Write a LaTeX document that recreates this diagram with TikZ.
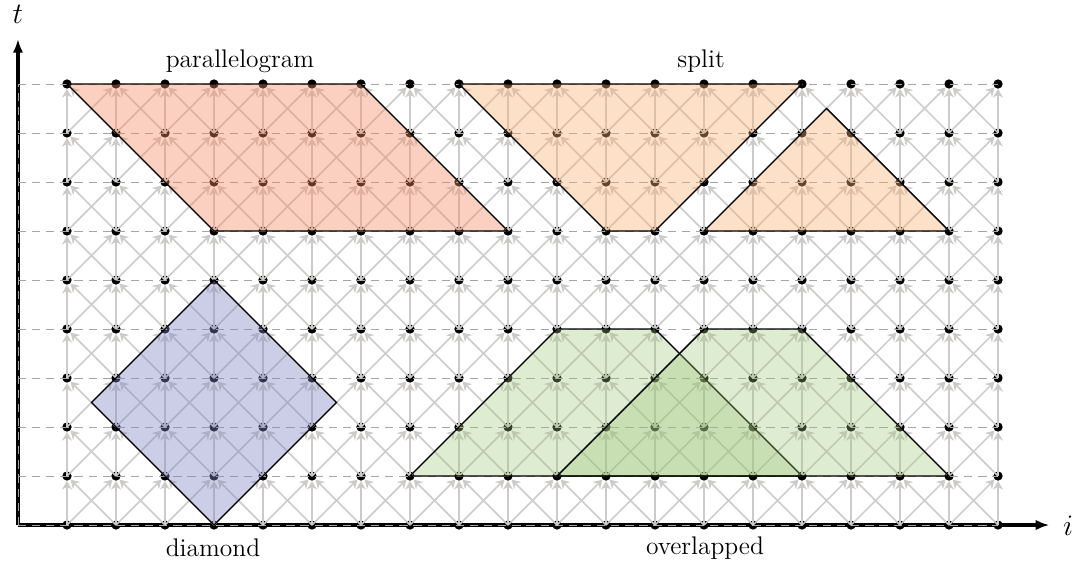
\documentclass[tikz,border=0pt]{standalone}
\usetikzlibrary{arrows.meta}
\definecolor{edgegray}{RGB}{205,203,201}
\definecolor{dashgray}{RGB}{165,165,165}
\definecolor{salmonc}{RGB}{245,137,97}
\definecolor{peachc}{RGB}{247,177,117}
\definecolor{bluec}{RGB}{127,133,197}
\definecolor{greenc}{RGB}{155,197,119}
\tikzset{
  dot/.style={circle,fill=black,inner sep=0pt,minimum size=5.4pt},
  edgeline/.style={draw=edgegray,line width=0.85pt,-{Stealth[length=5pt,width=5.8pt]}},
  dashline/.style={draw=dashgray,line width=0.55pt,dash pattern=on 4.8pt off 3.4pt},
  axisline/.style={draw=black,line width=1.8pt,-{Latex[length=8pt,width=6pt]}},
  region/.style={draw=black,line width=0.8pt,line join=miter},
  lbl/.style={font=\fontsize{14.8}{17}\selectfont,inner sep=0pt},
  axlbl/.style={font=\fontsize{18}{21}\selectfont,inner sep=0pt}
}
\begin{document}
\begin{tikzpicture}[x=1cm,y=1cm]
\useasboundingbox (-0.367,-0.755) rectangle (21.571,10.714);
% axes
\coordinate (o) at (0,0);
\coordinate (tend) at (0,9.92);
\coordinate (iend) at (21.05,0);
\draw[axisline] (o) -- (tend);
\draw[axisline] (o) -- (iend);
\node[axlbl] (tl) at (0,10.42) {$t$};
\node[axlbl] (il) at (21.43,-0.02) {$i$};
% dashed rows and dashed axis
\coordinate (ytop) at (0,9);
\draw[dashline] (o) -- (ytop);
\foreach \t in {0,...,9} {
  \coordinate (y\t) at (0,\t);
}
% dots
\foreach \i in {1,...,20} {
  \foreach \t in {0,...,9} {
    \node[dot] (d-\i-\t) at (\i,\t) {};
  }
}
\foreach \t in {0,...,9} {
  \draw[dashline] (y\t) -- (d-20-\t.center);
}
% edges
\foreach \i in {1,...,20} {
  \foreach \t in {0,...,8} {
    \pgfmathtruncatemacro\tn{\t+1}
    \pgfmathtruncatemacro\im{\i-1}
    \pgfmathtruncatemacro\ip{\i+1}
    \draw[edgeline] (d-\i-\t.center) -- (d-\i-\tn);
    \ifnum\i>1 \draw[edgeline] (d-\i-\t.center) -- (d-\im-\tn); \fi
    \ifnum\i<20 \draw[edgeline] (d-\i-\t.center) -- (d-\ip-\tn); \fi
  }
}
% regions
\coordinate (apex) at (16.5,8.5);
\coordinate (dl) at (1.5,2.5);
\coordinate (dr) at (6.5,2.5);
\filldraw[region,fill=salmonc,fill opacity=0.4] (d-1-9.center) -- (d-7-9.center) -- (d-10-6.center) -- (d-4-6.center) -- cycle;
\filldraw[region,fill=peachc,fill opacity=0.4] (d-9-9.center) -- (d-16-9.center) -- (d-13-6.center) -- (d-12-6.center) -- cycle;
\filldraw[region,fill=peachc,fill opacity=0.4] (d-14-6.center) -- (apex) -- (d-19-6.center) -- cycle;
\filldraw[region,fill=bluec,fill opacity=0.4] (d-4-5.center) -- (dr) -- (d-4-0.center) -- (dl) -- cycle;
\filldraw[region,fill=greenc,fill opacity=0.33] (d-8-1.center) -- (d-11-4.center) -- (d-13-4.center) -- (d-16-1.center) -- cycle;
\filldraw[region,fill=greenc,fill opacity=0.33] (d-11-1.center) -- (d-14-4.center) -- (d-16-4.center) -- (d-19-1.center) -- cycle;
% labels
\node[lbl] (lp) at (4.53,9.47) {parallelogram};
\node[lbl] (ls) at (13.94,9.47) {split};
\node[lbl] (ld) at (3.98,-0.47) {diamond};
\node[lbl] (lo) at (14.02,-0.47) {overlapped};
\end{tikzpicture}
\end{document}
